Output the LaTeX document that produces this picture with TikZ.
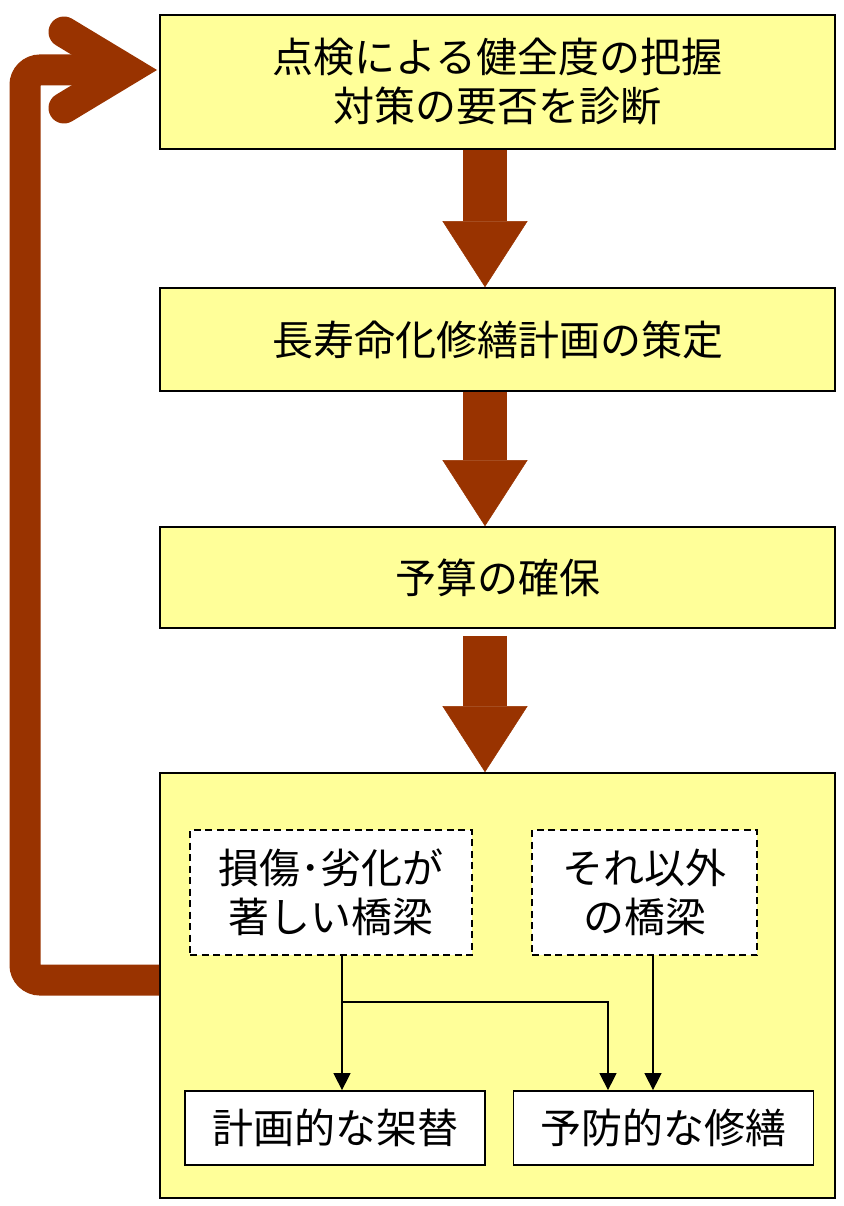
\documentclass[tikz,border=0pt]{standalone}
\usepackage{fontspec}
\setmainfont{Noto Sans CJK JP}
\usetikzlibrary{arrows.meta,positioning}
\definecolor{arrowbrown}{RGB}{153,51,0}
\definecolor{boxyellow}{RGB}{255,255,153}

\begin{document}
\begin{tikzpicture}[x=1pt,y=-1pt,
    jfont/.style={font=\fontsize{41}{49}\selectfont},
    stepbox/.style={jfont, draw=black, line width=1.6pt, fill=boxyellow, inner sep=0pt,
        minimum width=675pt, align=center},
    casebox/.style={jfont, draw=black, line width=1.8pt, dash pattern=on 7pt off 4.5pt,
        fill=white, inner sep=0pt, minimum height=125pt, align=center},
    workbox/.style={jfont, draw=black, line width=1.8pt, fill=white, inner sep=0pt,
        minimum width=300pt, minimum height=74pt},
    bigarrow/.style={draw=arrowbrown, line width=44pt,
        -{Triangle[width=85pt 0,length=66pt 0,line width=0.5pt 0,fill=arrowbrown]}},
    fbline/.style={draw=arrowbrown, line width=31pt},
    conn/.style={line width=1.4pt, -{Triangle[width=17pt 0,length=17pt 0]}}]
  \useasboundingbox (0,0) rectangle (843,1206);

  % steps
  \node[stepbox, minimum height=134pt] (check) at (497.5,82) {点検による健全度の把握\\対策の要否を診断};
  \node[stepbox, minimum height=103pt] (plan) at (497.5,339.5) {長寿命化修繕計画の策定};
  \node[stepbox, minimum height=101pt] (budget) at (497.5,577.5) {予算の確保};
  \node[stepbox, minimum height=425pt] (work) at (497.5,985.5) {};

  % cases inside the last step
  \node[casebox, minimum width=282pt] (damaged) at (331,892.5) {損傷･劣化が\\著しい橋梁};
  \node[casebox, minimum width=225pt] (others) at (644.5,892.5) {それ以外\\の橋梁};
  \node[workbox] (renew) at (335,1128) {計画的な架替};
  \node[workbox] (repair) at (663.5,1128) {予防的な修繕};

  % flow
  \coordinate (ax) at (485,0);
  \draw[bigarrow] (check.south -| ax) -- (plan.north -| ax);
  \draw[bigarrow] (plan.south -| ax) -- (budget.north -| ax);
  \draw[bigarrow] ([yshift=-7pt]budget.south -| ax) -- (work.north -| ax);

  \coordinate (split) at (342,1002);
  \coordinate (rl) at (608,0);
  \coordinate (rr) at (653,0);
  \draw[conn] (damaged.south -| split) -- (renew.north -| split);
  \draw[conn] (split) -| (repair.north -| rl);
  \draw[conn] (others.south -| rr) -- (repair.north -| rr);

  % back to inspection
  \coordinate (fbdown) at (25,980);
  \coordinate (fbup) at (25,70);
  \coordinate (fbtip) at (127,70);
  \draw[fbline, rounded corners=15pt] (work.west |- fbdown) -- (fbdown) -- (fbup) -- (fbtip);
  \draw[fbline, line cap=round, line join=miter] (64,32) -- (fbtip) -- (64,108);
\end{tikzpicture}
\end{document}
